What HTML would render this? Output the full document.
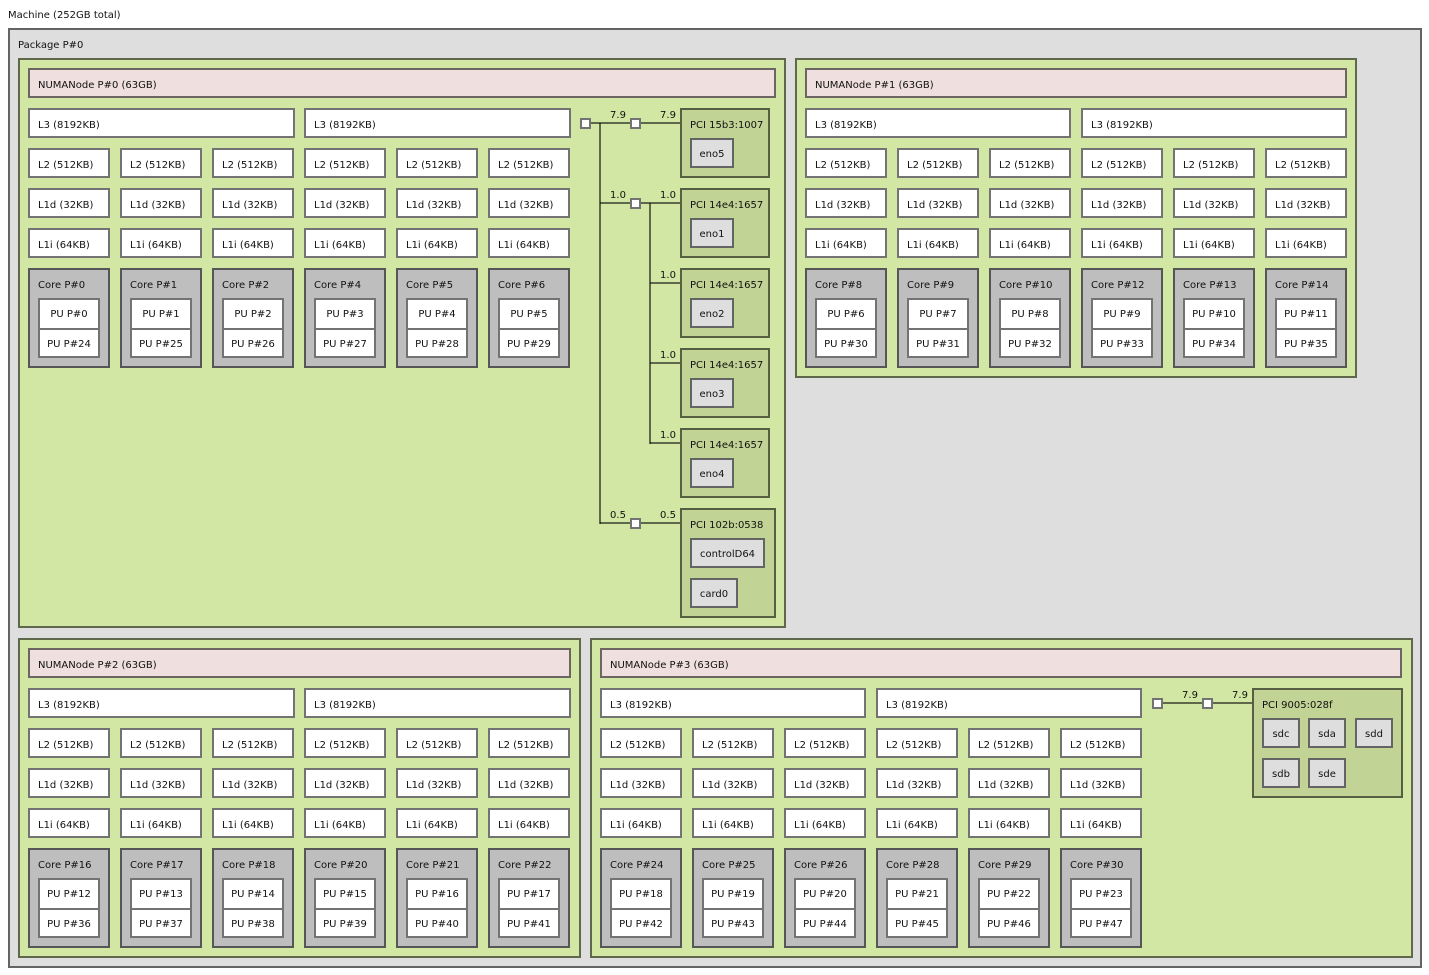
<!DOCTYPE html>
<html><head><meta charset="utf-8"><style>
html,body{margin:0;padding:0;background:#fff;width:1429px;height:975px;overflow:hidden;position:relative}
body{font-family:"DejaVu Sans","Liberation Sans",sans-serif;font-size:10px;color:#111}
.b{position:absolute;box-sizing:border-box;border:2px solid rgba(0,0,0,.55);white-space:nowrap}
.pk{background:#dedede}
.g{background:#d2e7a4}
.n{background:#efdfde;height:30px;line-height:26px;padding:3px 0 0 8px}
.c{background:#fff;height:30px;line-height:26px;padding:3px 0 0 8px}
.w2{width:82px}
.w3{width:267px}
.k{background:#bebebe;width:82px;height:100px;line-height:12px;padding:10px 0 0 8px}
.p{background:#fff;width:62px;text-align:center;line-height:26px;padding-top:2px}
.p1{height:32px}
.p2{height:30px}
.d{background:#c1d395;line-height:12px;padding:10px 0 0 8px}
.o{background:#dedede;height:30px;line-height:26px;text-align:center;padding-top:2px}
.s{background:#fff;width:11px;height:11px}
.l{position:absolute;background:rgba(0,0,0,.55)}
.t{position:absolute;width:30px;text-align:center;line-height:14px;white-space:nowrap}
.lab{position:absolute;line-height:14px;white-space:nowrap}
</style></head><body>

<div class="lab" style="left:8px;top:9px">Machine (252GB total)</div>
<div class="b pk" style="left:8px;top:28px;width:1414px;height:940px"></div>
<div class="lab" style="left:18px;top:39px">Package P#0</div>

<!-- NUMA 0 -->
<div class="b g" style="left:18px;top:58px;width:768px;height:570px"></div>
<div class="b n" style="left:28px;top:68px;width:748px">NUMANode P#0 (63GB)</div>
<div class="b c w3" style="left:28px;top:108px">L3 (8192KB)</div>
<div class="b c w3" style="left:304px;top:108px">L3 (8192KB)</div>

<div class="b c w2" style="left:28px;top:148px">L2 (512KB)</div>
<div class="b c w2" style="left:120px;top:148px">L2 (512KB)</div>
<div class="b c w2" style="left:212px;top:148px">L2 (512KB)</div>
<div class="b c w2" style="left:304px;top:148px">L2 (512KB)</div>
<div class="b c w2" style="left:396px;top:148px">L2 (512KB)</div>
<div class="b c w2" style="left:488px;top:148px">L2 (512KB)</div>

<div class="b c w2" style="left:28px;top:188px">L1d (32KB)</div>
<div class="b c w2" style="left:120px;top:188px">L1d (32KB)</div>
<div class="b c w2" style="left:212px;top:188px">L1d (32KB)</div>
<div class="b c w2" style="left:304px;top:188px">L1d (32KB)</div>
<div class="b c w2" style="left:396px;top:188px">L1d (32KB)</div>
<div class="b c w2" style="left:488px;top:188px">L1d (32KB)</div>

<div class="b c w2" style="left:28px;top:228px">L1i (64KB)</div>
<div class="b c w2" style="left:120px;top:228px">L1i (64KB)</div>
<div class="b c w2" style="left:212px;top:228px">L1i (64KB)</div>
<div class="b c w2" style="left:304px;top:228px">L1i (64KB)</div>
<div class="b c w2" style="left:396px;top:228px">L1i (64KB)</div>
<div class="b c w2" style="left:488px;top:228px">L1i (64KB)</div>

<div class="b k" style="left:28px;top:268px">Core P#0</div>
<div class="b p p1" style="left:38px;top:298px">PU P#0</div>
<div class="b p p2" style="left:38px;top:328px">PU P#24</div>
<div class="b k" style="left:120px;top:268px">Core P#1</div>
<div class="b p p1" style="left:130px;top:298px">PU P#1</div>
<div class="b p p2" style="left:130px;top:328px">PU P#25</div>
<div class="b k" style="left:212px;top:268px">Core P#2</div>
<div class="b p p1" style="left:222px;top:298px">PU P#2</div>
<div class="b p p2" style="left:222px;top:328px">PU P#26</div>
<div class="b k" style="left:304px;top:268px">Core P#4</div>
<div class="b p p1" style="left:314px;top:298px">PU P#3</div>
<div class="b p p2" style="left:314px;top:328px">PU P#27</div>
<div class="b k" style="left:396px;top:268px">Core P#5</div>
<div class="b p p1" style="left:406px;top:298px">PU P#4</div>
<div class="b p p2" style="left:406px;top:328px">PU P#28</div>
<div class="b k" style="left:488px;top:268px">Core P#6</div>
<div class="b p p1" style="left:498px;top:298px">PU P#5</div>
<div class="b p p2" style="left:498px;top:328px">PU P#29</div>

<!-- PCI tree NUMA 0 -->
<div class="l" style="left:591px;top:122px;width:39px;height:2px"></div>
<div class="l" style="left:641px;top:122px;width:39px;height:2px"></div>
<div class="l" style="left:599px;top:123px;width:2px;height:401px"></div>
<div class="l" style="left:600px;top:202px;width:30px;height:2px"></div>
<div class="l" style="left:641px;top:202px;width:39px;height:2px"></div>
<div class="l" style="left:649px;top:203px;width:2px;height:241px"></div>
<div class="l" style="left:650px;top:282px;width:30px;height:2px"></div>
<div class="l" style="left:650px;top:362px;width:30px;height:2px"></div>
<div class="l" style="left:650px;top:442px;width:30px;height:2px"></div>
<div class="l" style="left:600px;top:522px;width:30px;height:2px"></div>
<div class="l" style="left:641px;top:522px;width:39px;height:2px"></div>
<div class="b s" style="left:580px;top:118px"></div>
<div class="b s" style="left:630px;top:118px"></div>
<div class="b s" style="left:630px;top:198px"></div>
<div class="b s" style="left:630px;top:518px"></div>

<div class="t" style="left:603px;top:109px">7.9</div>
<div class="t" style="left:653px;top:109px">7.9</div>
<div class="t" style="left:603px;top:189px">1.0</div>
<div class="t" style="left:653px;top:189px">1.0</div>
<div class="t" style="left:653px;top:269px">1.0</div>
<div class="t" style="left:653px;top:349px">1.0</div>
<div class="t" style="left:653px;top:429px">1.0</div>
<div class="t" style="left:603px;top:509px">0.5</div>
<div class="t" style="left:653px;top:509px">0.5</div>

<div class="b d" style="left:680px;top:108px;width:90px;height:70px">PCI 15b3:1007</div>
<div class="b o" style="left:690px;top:138px;width:44px">eno5</div>
<div class="b d" style="left:680px;top:188px;width:90px;height:70px">PCI 14e4:1657</div>
<div class="b o" style="left:690px;top:218px;width:44px">eno1</div>
<div class="b d" style="left:680px;top:268px;width:90px;height:70px">PCI 14e4:1657</div>
<div class="b o" style="left:690px;top:298px;width:44px">eno2</div>
<div class="b d" style="left:680px;top:348px;width:90px;height:70px">PCI 14e4:1657</div>
<div class="b o" style="left:690px;top:378px;width:44px">eno3</div>
<div class="b d" style="left:680px;top:428px;width:90px;height:70px">PCI 14e4:1657</div>
<div class="b o" style="left:690px;top:458px;width:44px">eno4</div>
<div class="b d" style="left:680px;top:508px;width:96px;height:110px">PCI 102b:0538</div>
<div class="b o" style="left:690px;top:538px;width:75px">controlD64</div>
<div class="b o" style="left:690px;top:578px;width:48px">card0</div>

<!-- NUMA 1 -->
<div class="b g" style="left:795px;top:58px;width:562px;height:320px"></div>
<div class="b n" style="left:805px;top:68px;width:542px">NUMANode P#1 (63GB)</div>
<div class="b c" style="left:805px;top:108px;width:266px">L3 (8192KB)</div>
<div class="b c" style="left:1081px;top:108px;width:266px">L3 (8192KB)</div>

<div class="b c w2" style="left:805px;top:148px">L2 (512KB)</div>
<div class="b c w2" style="left:897px;top:148px">L2 (512KB)</div>
<div class="b c w2" style="left:989px;top:148px">L2 (512KB)</div>
<div class="b c w2" style="left:1081px;top:148px">L2 (512KB)</div>
<div class="b c w2" style="left:1173px;top:148px">L2 (512KB)</div>
<div class="b c w2" style="left:1265px;top:148px">L2 (512KB)</div>

<div class="b c w2" style="left:805px;top:188px">L1d (32KB)</div>
<div class="b c w2" style="left:897px;top:188px">L1d (32KB)</div>
<div class="b c w2" style="left:989px;top:188px">L1d (32KB)</div>
<div class="b c w2" style="left:1081px;top:188px">L1d (32KB)</div>
<div class="b c w2" style="left:1173px;top:188px">L1d (32KB)</div>
<div class="b c w2" style="left:1265px;top:188px">L1d (32KB)</div>

<div class="b c w2" style="left:805px;top:228px">L1i (64KB)</div>
<div class="b c w2" style="left:897px;top:228px">L1i (64KB)</div>
<div class="b c w2" style="left:989px;top:228px">L1i (64KB)</div>
<div class="b c w2" style="left:1081px;top:228px">L1i (64KB)</div>
<div class="b c w2" style="left:1173px;top:228px">L1i (64KB)</div>
<div class="b c w2" style="left:1265px;top:228px">L1i (64KB)</div>

<div class="b k" style="left:805px;top:268px">Core P#8</div>
<div class="b p p1" style="left:815px;top:298px">PU P#6</div>
<div class="b p p2" style="left:815px;top:328px">PU P#30</div>
<div class="b k" style="left:897px;top:268px">Core P#9</div>
<div class="b p p1" style="left:907px;top:298px">PU P#7</div>
<div class="b p p2" style="left:907px;top:328px">PU P#31</div>
<div class="b k" style="left:989px;top:268px">Core P#10</div>
<div class="b p p1" style="left:999px;top:298px">PU P#8</div>
<div class="b p p2" style="left:999px;top:328px">PU P#32</div>
<div class="b k" style="left:1081px;top:268px">Core P#12</div>
<div class="b p p1" style="left:1091px;top:298px">PU P#9</div>
<div class="b p p2" style="left:1091px;top:328px">PU P#33</div>
<div class="b k" style="left:1173px;top:268px">Core P#13</div>
<div class="b p p1" style="left:1183px;top:298px">PU P#10</div>
<div class="b p p2" style="left:1183px;top:328px">PU P#34</div>
<div class="b k" style="left:1265px;top:268px">Core P#14</div>
<div class="b p p1" style="left:1275px;top:298px">PU P#11</div>
<div class="b p p2" style="left:1275px;top:328px">PU P#35</div>

<!-- NUMA 2 -->
<div class="b g" style="left:18px;top:638px;width:563px;height:320px"></div>
<div class="b n" style="left:28px;top:648px;width:543px">NUMANode P#2 (63GB)</div>
<div class="b c w3" style="left:28px;top:688px">L3 (8192KB)</div>
<div class="b c w3" style="left:304px;top:688px">L3 (8192KB)</div>

<div class="b c w2" style="left:28px;top:728px">L2 (512KB)</div>
<div class="b c w2" style="left:120px;top:728px">L2 (512KB)</div>
<div class="b c w2" style="left:212px;top:728px">L2 (512KB)</div>
<div class="b c w2" style="left:304px;top:728px">L2 (512KB)</div>
<div class="b c w2" style="left:396px;top:728px">L2 (512KB)</div>
<div class="b c w2" style="left:488px;top:728px">L2 (512KB)</div>

<div class="b c w2" style="left:28px;top:768px">L1d (32KB)</div>
<div class="b c w2" style="left:120px;top:768px">L1d (32KB)</div>
<div class="b c w2" style="left:212px;top:768px">L1d (32KB)</div>
<div class="b c w2" style="left:304px;top:768px">L1d (32KB)</div>
<div class="b c w2" style="left:396px;top:768px">L1d (32KB)</div>
<div class="b c w2" style="left:488px;top:768px">L1d (32KB)</div>

<div class="b c w2" style="left:28px;top:808px">L1i (64KB)</div>
<div class="b c w2" style="left:120px;top:808px">L1i (64KB)</div>
<div class="b c w2" style="left:212px;top:808px">L1i (64KB)</div>
<div class="b c w2" style="left:304px;top:808px">L1i (64KB)</div>
<div class="b c w2" style="left:396px;top:808px">L1i (64KB)</div>
<div class="b c w2" style="left:488px;top:808px">L1i (64KB)</div>

<div class="b k" style="left:28px;top:848px">Core P#16</div>
<div class="b p p1" style="left:38px;top:878px">PU P#12</div>
<div class="b p p2" style="left:38px;top:908px">PU P#36</div>
<div class="b k" style="left:120px;top:848px">Core P#17</div>
<div class="b p p1" style="left:130px;top:878px">PU P#13</div>
<div class="b p p2" style="left:130px;top:908px">PU P#37</div>
<div class="b k" style="left:212px;top:848px">Core P#18</div>
<div class="b p p1" style="left:222px;top:878px">PU P#14</div>
<div class="b p p2" style="left:222px;top:908px">PU P#38</div>
<div class="b k" style="left:304px;top:848px">Core P#20</div>
<div class="b p p1" style="left:314px;top:878px">PU P#15</div>
<div class="b p p2" style="left:314px;top:908px">PU P#39</div>
<div class="b k" style="left:396px;top:848px">Core P#21</div>
<div class="b p p1" style="left:406px;top:878px">PU P#16</div>
<div class="b p p2" style="left:406px;top:908px">PU P#40</div>
<div class="b k" style="left:488px;top:848px">Core P#22</div>
<div class="b p p1" style="left:498px;top:878px">PU P#17</div>
<div class="b p p2" style="left:498px;top:908px">PU P#41</div>

<!-- NUMA 3 -->
<div class="b g" style="left:590px;top:638px;width:823px;height:320px"></div>
<div class="b n" style="left:600px;top:648px;width:802px">NUMANode P#3 (63GB)</div>
<div class="b c" style="left:600px;top:688px;width:266px">L3 (8192KB)</div>
<div class="b c" style="left:876px;top:688px;width:266px">L3 (8192KB)</div>

<div class="b c w2" style="left:600px;top:728px">L2 (512KB)</div>
<div class="b c w2" style="left:692px;top:728px">L2 (512KB)</div>
<div class="b c w2" style="left:784px;top:728px">L2 (512KB)</div>
<div class="b c w2" style="left:876px;top:728px">L2 (512KB)</div>
<div class="b c w2" style="left:968px;top:728px">L2 (512KB)</div>
<div class="b c w2" style="left:1060px;top:728px">L2 (512KB)</div>

<div class="b c w2" style="left:600px;top:768px">L1d (32KB)</div>
<div class="b c w2" style="left:692px;top:768px">L1d (32KB)</div>
<div class="b c w2" style="left:784px;top:768px">L1d (32KB)</div>
<div class="b c w2" style="left:876px;top:768px">L1d (32KB)</div>
<div class="b c w2" style="left:968px;top:768px">L1d (32KB)</div>
<div class="b c w2" style="left:1060px;top:768px">L1d (32KB)</div>

<div class="b c w2" style="left:600px;top:808px">L1i (64KB)</div>
<div class="b c w2" style="left:692px;top:808px">L1i (64KB)</div>
<div class="b c w2" style="left:784px;top:808px">L1i (64KB)</div>
<div class="b c w2" style="left:876px;top:808px">L1i (64KB)</div>
<div class="b c w2" style="left:968px;top:808px">L1i (64KB)</div>
<div class="b c w2" style="left:1060px;top:808px">L1i (64KB)</div>

<div class="b k" style="left:600px;top:848px">Core P#24</div>
<div class="b p p1" style="left:610px;top:878px">PU P#18</div>
<div class="b p p2" style="left:610px;top:908px">PU P#42</div>
<div class="b k" style="left:692px;top:848px">Core P#25</div>
<div class="b p p1" style="left:702px;top:878px">PU P#19</div>
<div class="b p p2" style="left:702px;top:908px">PU P#43</div>
<div class="b k" style="left:784px;top:848px">Core P#26</div>
<div class="b p p1" style="left:794px;top:878px">PU P#20</div>
<div class="b p p2" style="left:794px;top:908px">PU P#44</div>
<div class="b k" style="left:876px;top:848px">Core P#28</div>
<div class="b p p1" style="left:886px;top:878px">PU P#21</div>
<div class="b p p2" style="left:886px;top:908px">PU P#45</div>
<div class="b k" style="left:968px;top:848px">Core P#29</div>
<div class="b p p1" style="left:978px;top:878px">PU P#22</div>
<div class="b p p2" style="left:978px;top:908px">PU P#46</div>
<div class="b k" style="left:1060px;top:848px">Core P#30</div>
<div class="b p p1" style="left:1070px;top:878px">PU P#23</div>
<div class="b p p2" style="left:1070px;top:908px">PU P#47</div>

<!-- PCI NUMA 3 -->
<div class="l" style="left:1163px;top:702px;width:39px;height:2px"></div>
<div class="l" style="left:1213px;top:702px;width:39px;height:2px"></div>
<div class="b s" style="left:1152px;top:698px"></div>
<div class="b s" style="left:1202px;top:698px"></div>
<div class="t" style="left:1175px;top:689px">7.9</div>
<div class="t" style="left:1225px;top:689px">7.9</div>
<div class="b d" style="left:1252px;top:688px;width:151px;height:110px">PCI 9005:028f</div>
<div class="b o" style="left:1262px;top:718px;width:38px">sdc</div>
<div class="b o" style="left:1308px;top:718px;width:38px">sda</div>
<div class="b o" style="left:1355px;top:718px;width:38px">sdd</div>
<div class="b o" style="left:1262px;top:758px;width:38px">sdb</div>
<div class="b o" style="left:1308px;top:758px;width:38px">sde</div>

</body></html>
